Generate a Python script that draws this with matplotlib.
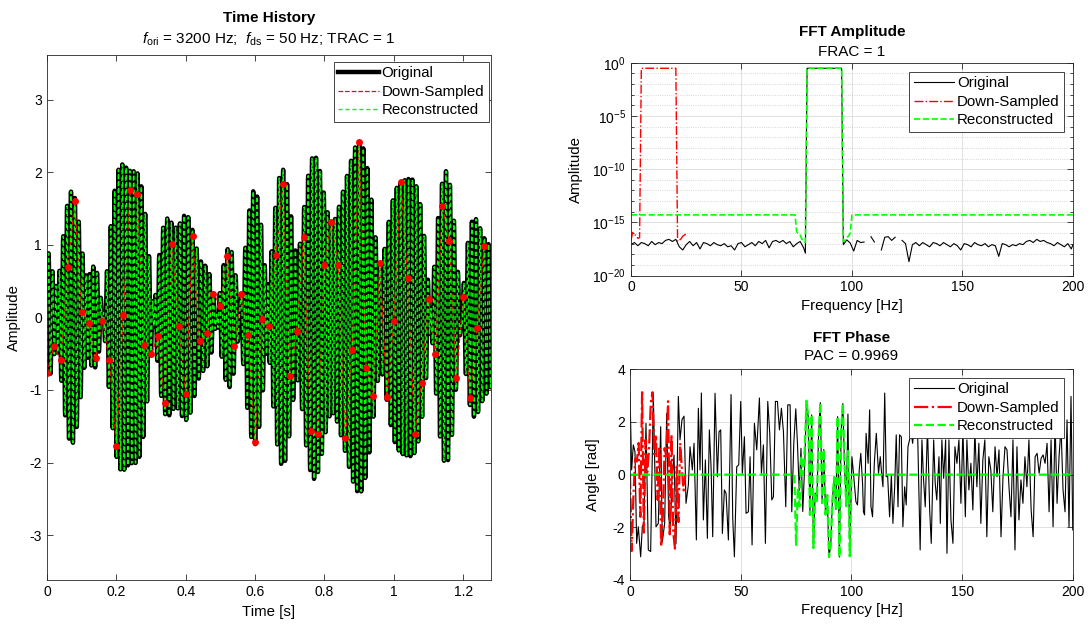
import numpy as np
import matplotlib
matplotlib.use("Agg")
import matplotlib.pyplot as plt
from matplotlib.ticker import FixedLocator, FuncFormatter, NullFormatter

plt.rcParams['font.family'] = ['Liberation Sans', 'DejaVu Sans']
plt.rcParams['font.size'] = 10
plt.rcParams['axes.unicode_minus'] = False
plt.rcParams['mathtext.fontset'] = 'custom'
plt.rcParams['mathtext.rm'] = 'Liberation Sans'
plt.rcParams['mathtext.it'] = 'Liberation Sans:italic'
plt.rcParams['mathtext.default'] = 'regular'

#####
# Data
#####
fs_ori = 3200.0
fs_ds = 50.0
n_ori = 4096
n_ds = 64
df = fs_ds / n_ds            # 0.78125 Hz, same for both records

# down-sampled record (red dots), t = 0, 0.02, ... 1.26 s
ds_val = [-0.77, -0.40, -0.59, 0.69, 1.60, 0.08, -0.08, -0.56, -0.05, -0.59,
          -1.77, 0.04, 1.76, 1.70, -0.38, -0.51, -0.26, -1.18, 1.02, -0.12,
          -1.06, 1.13, -0.33, -0.22, 0.33, 0.16, 0.85, -0.39, 0.32, -0.24,
          -1.72, -0.02, -0.12, 0.86, 1.84, -0.81, -0.18, 1.11, -1.56, -1.61,
          0.72, 1.32, 0.72, -1.66, -0.45, 2.42, -0.70, -1.08, 0.75, -1.10,
          -0.05, 1.87, 0.54, -1.61, -0.90, 0.25, -0.50, 1.54, 1.05, -0.83,
          0.28, -1.11, -0.15, 0.99]

# signal band of the original record (bins of the 4096 pt spectrum)
band_first, band_last = 102, 122
# 2*fs_ds in bins (alias folding point)
fold_bin = 128

# noise floor of the original spectrum, log10 amplitude, every other bin
orig_floor_lo = [-17.1, -16.9, -17.2, -16.9, -17.0, -17.2, -16.8, -17.1, -16.9, -17.0,
                 -16.7, -16.6, -16.8, -16.6, -17.3, -17.6, -17.1, -16.8, -17.2, -16.9,
                 -17.5, -16.9, -17.0, -17.2, -16.9, -17.1, -17.2, -17.0, -17.3, -17.2,
                 -17.6, -17.0, -16.9, -17.3, -17.1, -16.9, -17.2, -16.8, -17.0, -16.7,
                 -17.4, -16.8, -16.7, -16.9, -16.7, -17.0, -16.8, -17.3, -17.0, -16.8,
                 -17.4, -17.9]
orig_floor_hi = [-17.1, -16.65, -16.95, -17.7, -16.7, -16.9, -16.85, np.nan, -16.35, -16.85,
                 np.nan, -17.6, -16.4, -16.35, -16.7, -16.4, np.nan, -16.7, -17.0, -18.7,
                 -17.1, -16.9, -17.2, -16.9, -17.1, -17.3, -16.9, -17.0, -17.2, -16.9,
                 -17.1, -17.3, -17.0, -17.2, -17.6, -17.0, -17.1, -17.3, -16.9, -17.1,
                 -17.2, -17.0, -17.3, -17.1, -17.2, -18.2, -17.0, -17.1, -17.3, -17.1,
                 -17.2, -17.0, -17.1, -16.8, -16.7, -16.9, -16.6, -16.8, -16.7, -16.9,
                 -17.0, -17.2, -16.9, -17.1, -17.3, -17.0, -17.5, -17.1]

# phase of the original spectrum outside the band (line vertices)
orig_ph_lo_f = [0.0, 0.75, 1.51, 2.26, 3.01, 3.77, 4.82, 5.57, 6.33, 7.23,
                8.28, 9.34, 10.54, 11.75, 12.80, 13.86, 14.61, 15.66, 16.57, 17.47,
                18.22, 18.98, 19.88, 20.78, 21.84, 22.59, 23.49, 24.40, 25.30, 26.36,
                27.11, 28.16, 28.92, 29.97, 30.87, 31.63, 32.23, 33.13, 34.04, 34.94,
                35.84, 36.60, 37.35, 38.40, 39.46, 40.21, 40.96, 41.72, 42.62, 43.37,
                44.43, 45.63, 46.39, 47.14, 48.19, 49.10, 50.00, 50.75, 51.66, 52.41,
                53.46, 54.22, 55.12, 56.17, 57.23, 58.43, 59.34, 60.24, 61.14, 62.20,
                63.10, 64.01, 64.76, 65.66, 66.57, 67.47, 68.37, 69.28, 70.33, 71.23,
                72.29, 73.04, 73.95, 74.85, 75.6, 76.4, 77.2, 78.0, 78.9]
orig_ph_lo = [3.14, 0.18, 1.13, 0.87, -2.61, -1.98, -3.12, -1.98, -1.85, 1.95,
              -2.86, -2.92, 3.04, -1.98, -1.85, 1.82, -2.55, -1.85, 2.33, -1.60,
              -2.11, -0.19, 0.75, -2.61, 2.97, 1.32, 2.09, 2.22, -1.09, -0.39,
              1.06, 0.18, 1.19, -2.48, 2.52, 0.18, 3.10, -1.72, 0.56, -2.42,
              1.70, 0.30, -2.36, 3.09, -0.08, 1.63, 1.70, -2.23, -0.58, -0.71,
              -2.48, 3.04, -1.66, -3.12, 0.30, 0.37, 2.78, 0.05, 1.44, -1.47,
              -1.41, 0.68, -2.67, 1.95, 0.94, 2.91, 0.05, 1.13, -2.61, 2.78,
              1.57, -0.96, -0.84, 2.78, 2.78, 1.70, 2.52, 1.63, -1.22, 2.65,
              2.65, -1.41, 1.19, 2.5, 1.2, -0.6, 1.0, -1.4, 0.4]
orig_ph_hi_f = [96.1, 96.9, 97.7, 98.4, 99.2, 100.2, 100.9, 102.0, 102.7, 103.5,
                104.2, 105.0, 105.4, 105.9, 106.6, 107.5, 108.2, 108.8, 109.5, 110.3,
                111.2, 112.2, 113.0, 113.6, 114.2, 115.0, 115.7, 116.3, 117.2, 118.0,
                118.7, 119.5, 120.2, 121.0, 121.7, 122.5, 123.2, 124.0, 124.7, 125.5,
                126.2, 127.0, 127.6, 128.3, 129.1, 129.8, 131.0, 131.8, 132.5, 133.3,
                134.3, 135.3, 136.0, 137.1, 137.8, 138.5, 139.5, 140.1, 140.8, 141.6,
                142.5, 143.1, 144.0, 144.9, 145.8, 146.7, 147.6, 148.5, 149.4, 150.3,
                151.4, 152.1, 153.0, 153.9, 154.8, 155.7, 156.6, 157.5, 158.4, 159.3,
                160.2, 161.1, 162.0, 162.9, 163.8, 164.8, 165.7, 166.6, 167.5, 168.4,
                169.3, 170.2, 171.1, 172.0, 172.9, 173.8, 174.7, 175.6, 176.5, 177.4,
                178.3, 179.2, 180.1, 181.1, 182.0, 182.9, 183.8, 184.7, 185.6, 186.5,
                187.4, 188.3, 189.2, 190.1, 191.0, 191.9, 192.8, 193.7, 194.6, 195.5,
                196.4, 197.3, 198.2, 199.1, 199.9]
orig_ph_hi = [2.7, 0.2, -1.0, 2.3, -3.1, 0.68, 0.05, -1.03, -1.15, 0.18,
              0.81, -0.33, -1.41, -1.53, 1.57, 0.43, 2.46, -1.22, -1.60, 0.43,
              1.57, 0.05, 0.68, 0.05, -0.46, 3.10, -0.08, -0.01, -1.60, -0.01,
              -1.85, -0.46, 1.51, -1.22, 1.51, 1.44, -1.98, -0.46, -1.15, 1.06,
              1.32, 1.57, 1.19, 1.82, 2.46, 1.82, -2.86, 1.32, -0.14, -1.22,
              1.82, -1.34, -2.61, 1.32, -0.33, -0.96, 0.68, -1.85, 1.32, -0.14,
              1.32, -2.99, 1.32, -1.72, -2.61, 1.06, 0.43, 1.32, -1.09, 1.70,
              -1.60, 1.32, -0.58, 0.43, -1.34, 1.70, -0.46, 1.19, -1.85, 0.56,
              1.32, -2.36, 0.68, 0.18, -1.41, 1.06, -0.08, 0.94, -2.36, -0.08,
              1.06, 0.94, -0.46, -1.60, 1.32, -2.86, 1.06, -1.72, -0.20, -1.09,
              0.68, -0.46, 1.32, -1.34, -2.36, 0.68, 0.81, 0.05, 0.62, 0.75,
              0.43, 1.19, -1.41, 1.32, -1.98, 2.08, -1.09, 0.68, 1.82, -0.58,
              -1.41, 2.08, -1.98, 2.97, -2.10]

# down-sampled spectrum outside its alias band (bins 0..5 and 27..32)
ds_floor_lo = [-16.7, -15.95, -16.15, -16.25, -16.5, -16.45]
ds_floor_hi = [-16.8, -16.7, -16.55, -16.3, -16.2, -16.05]
ds_ph_lo = [0.0, -2.9, -0.8, 0.6, 0.5, 1.2]
ds_ph_hi = [0.3, -1.8, 1.2, 0.2, -0.6, 0.0]

# reconstructed spectrum: constant floor outside 75-100 Hz, edge bins 96..101 and 123..127
rec_floor = -14.3
rec_edge_lo = [-15.9, -16.1, -16.2, -16.6, -16.7, -16.9]
rec_edge_hi = [-16.8, -16.7, -16.4, -16.3, -16.0]
rec_ph_lo = [-2.7, -0.5, -1.2, 0.7, 0.0, 1.0]
rec_ph_hi = [2.7, 0.3, -1.2, 0.9, -3.1]

#####
# Spectra and time history
#####
Y = np.fft.rfft(ds_val)
m_band = np.arange(band_first, band_last + 1)
k_alias = fold_bin - m_band
X = np.zeros(n_ori // 2 + 1, dtype=complex)
X[m_band] = n_ori / n_ds * np.conj(Y[k_alias])
sig = np.fft.irfft(X, n_ori)
t = np.arange(n_ori) / fs_ori
t_ds = np.arange(n_ds) / fs_ds

band_amp = 2 * np.abs(X[m_band]) / n_ori
band_ph = np.angle(X[m_band])
k_ds_band = np.arange(fold_bin - band_last, fold_bin - band_first + 1)
ds_band_amp = 2 * np.abs(Y[k_ds_band]) / n_ds
ds_band_ph = np.angle(Y[k_ds_band])

# original amplitude line
b_lo = np.r_[np.arange(0, 101, 2), 101]
b_hi = np.r_[np.arange(band_last + 1, 256, 2), 256]
orig_f = np.r_[b_lo, m_band, b_hi] * df
orig_amp = np.r_[10.0 ** np.array(orig_floor_lo), band_amp, 10.0 ** np.array(orig_floor_hi)]
orig_pf = np.r_[orig_ph_lo_f, m_band * df, orig_ph_hi_f]
orig_ph = np.r_[orig_ph_lo, band_ph, orig_ph_hi]

# down-sampled lines
ds_f = np.arange(len(Y)) * df
ds_amp = np.r_[10.0 ** np.array(ds_floor_lo), ds_band_amp, 10.0 ** np.array(ds_floor_hi)]
ds_ph = np.r_[ds_ph_lo, ds_band_ph, ds_ph_hi]

# reconstructed lines
rec_bins = np.arange(0, 257)
rec_amp = np.full(len(rec_bins), 10.0 ** rec_floor)
rec_ph = np.zeros(len(rec_bins))
lo_e = np.arange(band_first - len(rec_edge_lo), band_first)
hi_e = np.arange(band_last + 1, band_last + 1 + len(rec_edge_hi))
rec_amp[lo_e] = 10.0 ** np.array(rec_edge_lo)
rec_amp[hi_e] = 10.0 ** np.array(rec_edge_hi)
rec_amp[m_band] = band_amp
rec_ph[lo_e] = rec_ph_lo
rec_ph[hi_e] = rec_ph_hi
rec_ph[m_band] = band_ph
rec_f = rec_bins * df

#####
# Figure
#####
axcol = '#262626'
gcol = '#dcdcdc'
fs_txt = 10.8
fig = plt.figure(figsize=(10.92, 6.27), dpi=100)

def style(ax):
    for s in ax.spines.values():
        s.set_color(axcol)
        s.set_linewidth(0.6)
    ax.tick_params(which='both', direction='in', top=True, right=True,
                   colors=axcol, labelcolor='black', width=0.6)
    ax.tick_params(which='major', length=4.5)
    ax.tick_params(which='minor', length=2.5)

def leg(ax, x, y):
    lg = ax.legend(loc='upper right', bbox_to_anchor=(x, y), fancybox=False,
                   framealpha=1, edgecolor=axcol, handlelength=2.7,
                   handletextpad=0.2, labelspacing=0.3, borderpad=0.3,
                   borderaxespad=0, fontsize=fs_txt)
    lg.get_frame().set_linewidth(0.6)
    return lg

## time history
ax1 = fig.add_axes([0.043, 0.075, 0.4066, 0.8373])
ax1.plot(t, sig, '-', color='black', linewidth=3.2, label='Original')
ax1.plot(t_ds, ds_val, '--', color='red', linewidth=0.9, label='Down-Sampled')
ax1.plot(t, sig, '--', color='#00ff00', linewidth=1.0, dashes=(3, 2), label='Reconstructed')
ax1.plot(t_ds, ds_val, 'o', color='red', markersize=5, markeredgewidth=0)
ax1.set_xlim(0, n_ori / fs_ori)
ax1.set_ylim(-3.62, 3.62)
ax1.xaxis.set_major_locator(FixedLocator([0, 0.2, 0.4, 0.6, 0.8, 1.0, 1.2]))
ax1.yaxis.set_major_locator(FixedLocator([-3, -2, -1, 0, 1, 2, 3]))
ax1.xaxis.set_major_formatter(FuncFormatter(lambda v, p: '%g' % v))
ax1.set_xlabel('Time [s]', fontsize=fs_txt)
ax1.set_ylabel('Amplitude', fontsize=fs_txt)
ax1.xaxis.set_label_coords(0.5, -0.047)
ax1.yaxis.set_label_coords(-0.058, 0.5)
style(ax1)
leg(ax1, 0.995, 0.987)
fig.text(0.2463, 0.972, 'Time History', ha='center', va='center', fontsize=11, fontweight='bold')
fig.text(0.2463, 0.938, r'$\mathit{f}_{\mathrm{ori}}$ = 3200 Hz;  $\mathit{f}_{\mathrm{ds}}$ = 50 Hz; TRAC = 1',
         ha='center', va='center', fontsize=11)

## FFT amplitude
ax2 = fig.add_axes([0.5778, 0.5606, 0.4048, 0.3392])
ax2.semilogy(orig_f, orig_amp, '-', color='black', linewidth=0.8, label='Original')
ax2.semilogy(ds_f, ds_amp, '-.', color='red', linewidth=1.0, label='Down-Sampled')
ax2.semilogy(rec_f, rec_amp, '--', color='#00ff00', linewidth=1.2, label='Reconstructed')
ax2.set_xlim(0, 200)
ax2.set_ylim(1e-20, 1e0)
ax2.xaxis.set_major_locator(FixedLocator([0, 50, 100, 150, 200]))
ax2.yaxis.set_major_locator(FixedLocator([1e-20, 1e-15, 1e-10, 1e-5, 1e0]))
ax2.yaxis.set_minor_locator(FixedLocator([10.0 ** e for e in range(-20, 1)]))
ax2.yaxis.set_minor_formatter(NullFormatter())
ax2.yaxis.set_major_formatter(FuncFormatter(lambda v, p: r'$10^{%d}$' % round(np.log10(v))))
ax2.grid(True, which='major', color=gcol, linewidth=0.6)
ax2.grid(True, which='minor', axis='y', color='#c8c8c8', linestyle=':', linewidth=0.6)
ax2.set_axisbelow(True)
ax2.set_xlabel('Frequency [Hz]', fontsize=fs_txt)
ax2.set_ylabel('Amplitude', fontsize=fs_txt)
ax2.xaxis.set_label_coords(0.5, -0.11)
ax2.yaxis.set_label_coords(-0.108, 0.5)
style(ax2)
leg(ax2, 0.98, 0.957)
fig.text(0.7802, 0.949, 'FFT Amplitude', ha='center', va='center', fontsize=11, fontweight='bold')
fig.text(0.7802, 0.917, 'FRAC = 1', ha='center', va='center', fontsize=11)

## FFT phase
ax3 = fig.add_axes([0.5769, 0.075, 0.4057, 0.336])
ax3.plot(orig_pf, orig_ph, '-', color='black', linewidth=0.8, label='Original')
ax3.plot(ds_f, ds_ph, '-.', color='red', linewidth=1.6, label='Down-Sampled')
ax3.plot(rec_f, rec_ph, '--', color='#00ff00', linewidth=1.6, label='Reconstructed')
ax3.set_xlim(0, 200)
ax3.set_ylim(-4, 4)
ax3.xaxis.set_major_locator(FixedLocator([0, 50, 100, 150, 200]))
ax3.yaxis.set_major_locator(FixedLocator([-4, -2, 0, 2, 4]))
ax3.grid(True, color=gcol, linewidth=0.6)
ax3.set_axisbelow(True)
ax3.set_xlabel('Frequency [Hz]', fontsize=fs_txt)
ax3.set_ylabel('Angle [rad]', fontsize=fs_txt)
ax3.xaxis.set_label_coords(0.5, -0.11)
ax3.yaxis.set_label_coords(-0.068, 0.5)
style(ax3)
leg(ax3, 0.98, 0.959)
fig.text(0.7797, 0.461, 'FFT Phase', ha='center', va='center', fontsize=11, fontweight='bold')
fig.text(0.7797, 0.432, 'PAC = 0.9969', ha='center', va='center', fontsize=11)

fig.savefig('out.png', dpi=100)
